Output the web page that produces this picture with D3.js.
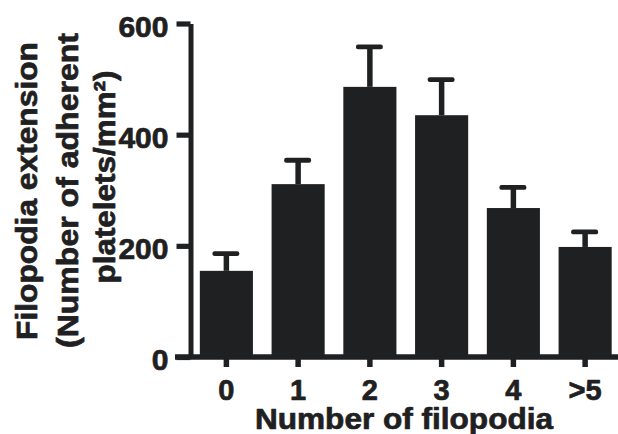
<!DOCTYPE html>
<html>
<head>
<meta charset="utf-8">
<script src="https://cdn.jsdelivr.net/npm/d3@7"></script>
<style>
  html, body { margin: 0; padding: 0; background: #ffffff; }
  svg { display: block; }
  text { font-family: "Liberation Sans", Arial, Helvetica, sans-serif; font-weight: bold; fill: #1f2022; }
</style>
</head>
<body>
<div id="chart"></div>
<script>
// ---- data ----
const categories = ["0", "1", "2", "3", "4", ">5"];
const means = [155, 311, 486, 435, 268, 198];
const errors = [31, 43, 72, 64, 37, 27];
const yTicks = [0, 200, 400, 600];
const xTitle = "Number of filopodia";
const yTitleLines = ["Filopodia extension", "(Number of adherent", "platelets/mm\u00B2)"];

// ---- layout ----
const W = 618, H = 434;
const ink = "#1f2022";
const svg = d3.select("#chart").append("svg").attr("width", W).attr("height", H);

const x = d3.scaleBand().domain(categories).range([190.5, 621]).paddingInner(0.26).paddingOuter(0.13);
const y = d3.scaleLinear().domain([0, 600]).range([357, 23.5]);

// bars
svg.append("g").selectAll("rect").data(categories).join("rect")
  .attr("x", d => x(d))
  .attr("y", (d, i) => y(means[i]))
  .attr("width", x.bandwidth())
  .attr("height", (d, i) => y(0) - y(means[i]))
  .attr("fill", ink);

// error bars (upper only)
const eg = svg.append("g");
categories.forEach((c, i) => {
  const cx = x(c) + x.bandwidth() / 2;
  eg.append("line")
    .attr("x1", cx).attr("x2", cx)
    .attr("y1", y(means[i])).attr("y2", y(means[i] + errors[i]))
    .attr("stroke", ink).attr("stroke-width", 5.5);
  eg.append("rect")
    .attr("x", cx - 14).attr("y", y(means[i] + errors[i]) - 2.4)
    .attr("width", 27).attr("height", 4.8).attr("rx", 2.2)
    .attr("fill", ink);
});

const textStyle = sel => sel
  .style("font-family", "'Liberation Sans', Arial, sans-serif")
  .style("font-weight", "bold")
  .attr("fill", ink)
  .attr("stroke", ink).attr("stroke-width", 0.7).attr("stroke-linejoin", "round");

// y axis
const yAxis = svg.append("g").attr("transform", "translate(190.5,0)")
  .call(d3.axisLeft(y).tickValues(yTicks).tickSize(14).tickSizeOuter(0).tickPadding(8).tickFormat(d3.format("d")));
yAxis.select(".domain").attr("stroke", ink).attr("stroke-width", 5);
yAxis.selectAll(".tick line").attr("stroke", ink).attr("stroke-width", 5.2);
yAxis.selectAll(".tick text").attr("dy", "0.42em").style("font-size", "30px").call(textStyle);

// x axis baseline
svg.append("line")
  .attr("x1", 175).attr("x2", 618)
  .attr("y1", y(0)).attr("y2", y(0))
  .attr("stroke", ink).attr("stroke-width", 5.5);

const xAxis = svg.append("g").attr("transform", `translate(0,${y(0)})`)
  .call(d3.axisBottom(x).tickSize(10).tickSizeOuter(0));
xAxis.select(".domain").remove();
xAxis.selectAll(".tick line").attr("stroke", ink).attr("stroke-width", 5.5);
xAxis.selectAll(".tick text").attr("y", 43).attr("dy", 0).style("font-size", "29px").call(textStyle);

// x title
svg.append("text")
  .attr("x", 404).attr("y", 429)
  .attr("text-anchor", "middle")
  .style("font-size", "29px")
  .attr("textLength", 298).attr("lengthAdjust", "spacingAndGlyphs")
  .call(textStyle)
  .text(xTitle);

// y title (3 lines, rotated)
const baselines = [36.7, 78, 115];
const centers = [191, 190.5, 177];
const lengths = [298, 315, 213];
yTitleLines.forEach((t, i) => {
  svg.append("text")
    .attr("transform", `translate(${baselines[i]},${centers[i]}) rotate(-90)`)
    .attr("text-anchor", "middle")
    .style("font-size", "30px")
    .attr("textLength", lengths[i]).attr("lengthAdjust", "spacingAndGlyphs")
    .call(textStyle)
    .text(t);
});
</script>
</body>
</html>
